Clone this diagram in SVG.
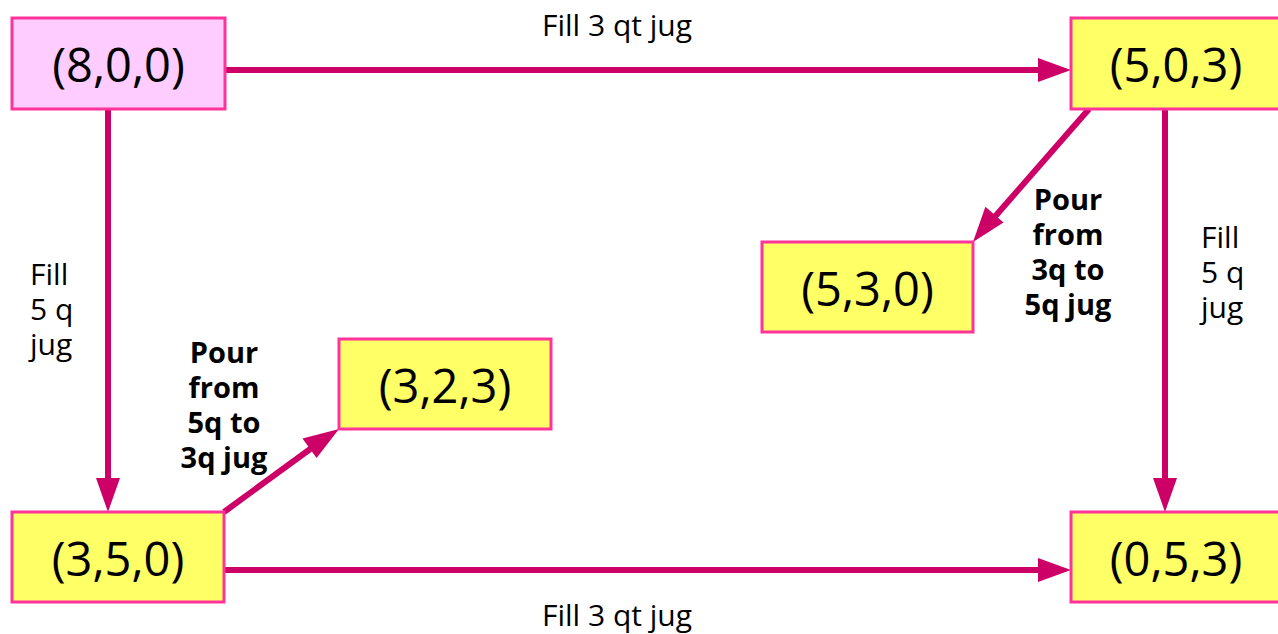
<svg xmlns="http://www.w3.org/2000/svg" width="1278" height="634" viewBox="0 0 1278 634">
<style>
.box{stroke:#ff3399;stroke-width:3}
.y{fill:#ffff66}
.p{fill:#ffccff}
.nt{font-family:"Open Sans","DejaVu Sans",sans-serif;font-size:47px;fill:#000;text-anchor:middle}
.lt{font-family:"Open Sans","DejaVu Sans",sans-serif;font-size:30px;fill:#000}
.bt{font-family:"Open Sans","DejaVu Sans",sans-serif;font-size:29px;font-weight:bold;fill:#000;text-anchor:middle}
.c{stroke:#cc0066;stroke-width:6;fill:none}
</style>
<rect width="1278" height="634" fill="#fff"/>
<g id="connectors">
<line class="c" x1="225" y1="70" x2="1040" y2="70"/>
<path d="M1038,58 L1071,70 L1038,82 Z" fill="#cc0066"/>
<line class="c" x1="108" y1="109" x2="108" y2="480"/>
<path d="M96,478 L108,512 L120,478 Z" fill="#cc0066"/>
<line class="c" x1="224" y1="570" x2="1040" y2="570"/>
<path d="M1038,558 L1071,570 L1038,582 Z" fill="#cc0066"/>
<line class="c" x1="1165" y1="109" x2="1165" y2="480"/>
<path d="M1153,478 L1165,512 L1177,478 Z" fill="#cc0066"/>
<line class="c" x1="1089" y1="109" x2="992" y2="220"/>
<path d="M985.4,206.7 L973,242 L1003.5,222.5 Z" fill="#cc0066"/>
<line class="c" x1="224" y1="512" x2="313" y2="447"/>
<path d="M302.5,438.5 L339,429 L316.6,457.9 Z" fill="#cc0066"/>
</g>
<g id="n800"><rect class="box p" x="12" y="18" width="213" height="91"/><text class="nt" x="118.5" y="82">(8,0,0)</text></g>
<g id="n503"><rect class="box y" x="1071" y="18" width="220" height="91"/><text class="nt" x="1176" y="82">(5,0,3)</text></g>
<g id="n530"><rect class="box y" x="762" y="242" width="211" height="90"/><text class="nt" x="867.5" y="306">(5,3,0)</text></g>
<g id="n323"><rect class="box y" x="339" y="339" width="212" height="90"/><text class="nt" x="445" y="403">(3,2,3)</text></g>
<g id="n350"><rect class="box y" x="12" y="512" width="212" height="90"/><text class="nt" x="118" y="576">(3,5,0)</text></g>
<g id="n053"><rect class="box y" x="1071" y="512" width="220" height="90"/><text class="nt" x="1176" y="576">(0,5,3)</text></g>
<g id="labels">
<text class="lt" x="617" y="36" text-anchor="middle">Fill 3 qt jug</text>
<text class="lt" x="617" y="626" text-anchor="middle">Fill 3 qt jug</text>
<text class="lt" x="30" y="285">Fill</text>
<text class="lt" x="30" y="320">5 q</text>
<text class="lt" x="30" y="355">jug</text>
<text class="lt" x="1201" y="248">Fill</text>
<text class="lt" x="1201" y="283">5 q</text>
<text class="lt" x="1201" y="318">jug</text>
<text class="bt" x="1068" y="210">Pour</text>
<text class="bt" x="1068" y="245">from</text>
<text class="bt" x="1068" y="280">3q to</text>
<text class="bt" x="1068" y="315">5q jug</text>
<text class="bt" x="224" y="363">Pour</text>
<text class="bt" x="224" y="398">from</text>
<text class="bt" x="224" y="433">5q to</text>
<text class="bt" x="224" y="468">3q jug</text>
</g>
</svg>
